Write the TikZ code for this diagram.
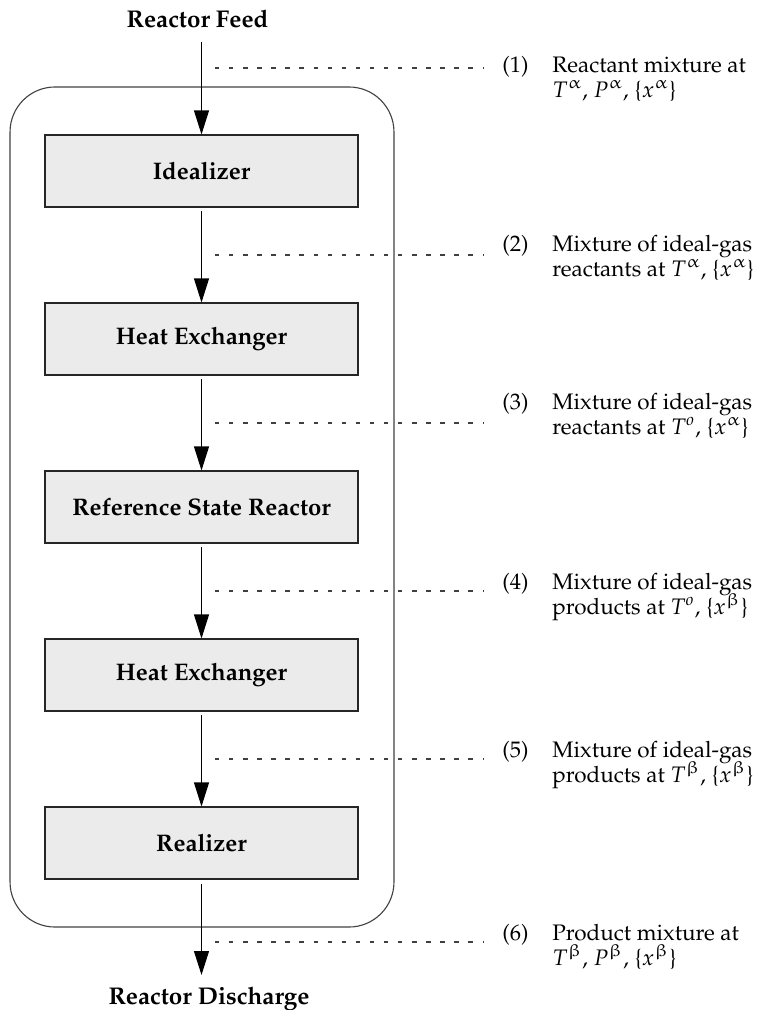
\documentclass[tikz,border=0pt]{standalone}
\usepackage[T1]{fontenc}
\usepackage{mathpazo}
\usepackage{upgreek}
\usetikzlibrary{arrows.meta}
\begin{document}
\begin{tikzpicture}[x=0.4545pt,y=-0.4545pt,
  font=\fontsize{10.2}{12}\selectfont,
  box/.style={draw=black!85, fill=black!8, line width=0.5pt, minimum width=142.26pt, minimum height=32.72pt, inner sep=0pt, font=\fontsize{10.9}{13}\selectfont\bfseries},
  unitbox/.style={draw=black!75, line width=0.5pt, rounded corners=20.45pt, minimum width=174.5pt, minimum height=381.8pt, inner sep=0pt},
  flow/.style={draw=black, line width=0.5pt, -{Triangle[length=10.9pt,width=6.8pt]}},
  leader/.style={draw=black!75, line width=0.5pt, dash pattern=on 2pt off 4.4pt},
  lbl/.style={anchor=base west, inner sep=0pt},
  ttl/.style={anchor=base, inner sep=0pt, font=\fontsize{11}{13}\selectfont\bfseries}]
\useasboundingbox (0,0) rectangle (762,1010);
% enclosure
\node[unitbox] (unit) at (202,507) {};
% titles
\node[ttl] (feed) at (197.5,27) {Reactor Feed};
\node[ttl] (dis) at (209,1004) {Reactor Discharge};
% process boxes
\node[box] (b1) at (201.5,171) {Idealizer};
\node[box] (b2) at (201.5,339) {Heat Exchanger};
\node[box] (b3) at (201.5,507) {Reference State Reactor};
\node[box] (b4) at (201.5,675) {Heat Exchanger};
\node[box] (b5) at (201.5,843) {Realizer};
% flow arrows
\coordinate (fs) at (201.5,42);
\coordinate (fe) at (201.5,975);
\draw[flow] (fs) -- (b1.north);
\draw[flow] ([yshift=-1.36pt]b1.south) -- (b2.north);
\draw[flow] ([yshift=-1.36pt]b2.south) -- (b3.north);
\draw[flow] ([yshift=-1.36pt]b3.south) -- (b4.north);
\draw[flow] ([yshift=-1.36pt]b4.south) -- (b5.north);
\draw[flow] ([yshift=-1.82pt]b5.south) -- (fe);
% leaders
\foreach \i/\y in {1/68,2/255,3/423,4/591,5/759,6/942}{
  \coordinate (ds\i) at (215,\y);
  \coordinate (de\i) at (484,\y);
  \draw[leader] (ds\i) -- (de\i);
}
% state labels
\node[lbl] (n1) at (502,72) {(1)};
\node[lbl] (t1a) at (552,72) {Reactant mixture at};
\node[lbl] (t1b) at (552,97) {$T^{\upalpha}$, $P^{\upalpha}$, \{$x^{\upalpha}$\}};
\node[lbl] (n2) at (502,251) {(2)};
\node[lbl] (t2a) at (552,251) {Mixture of ideal-gas};
\node[lbl] (t2b) at (552,276) {reactants at $T^{\upalpha}$, \{$x^{\upalpha}$\}};
\node[lbl] (n3) at (502,409) {(3)};
\node[lbl] (t3a) at (552,409) {Mixture of ideal-gas};
\node[lbl] (t3b) at (552,434) {reactants at $T^{o}$, \{$x^{\upalpha}$\}};
\node[lbl] (n4) at (502,589) {(4)};
\node[lbl] (t4a) at (552,589) {Mixture of ideal-gas};
\node[lbl] (t4b) at (552,614) {products at $T^{o}$, \{$x^{\upbeta}$\}};
\node[lbl] (n5) at (502,757) {(5)};
\node[lbl] (t5a) at (552,757) {Mixture of ideal-gas};
\node[lbl] (t5b) at (552,782) {products at $T^{\upbeta}$, \{$x^{\upbeta}$\}};
\node[lbl] (n6) at (502,940) {(6)};
\node[lbl] (t6a) at (552,940) {Product mixture at};
\node[lbl] (t6b) at (552,965) {$T^{\upbeta}$, $P^{\upbeta}$, \{$x^{\upbeta}$\}};
\end{tikzpicture}
\end{document}
